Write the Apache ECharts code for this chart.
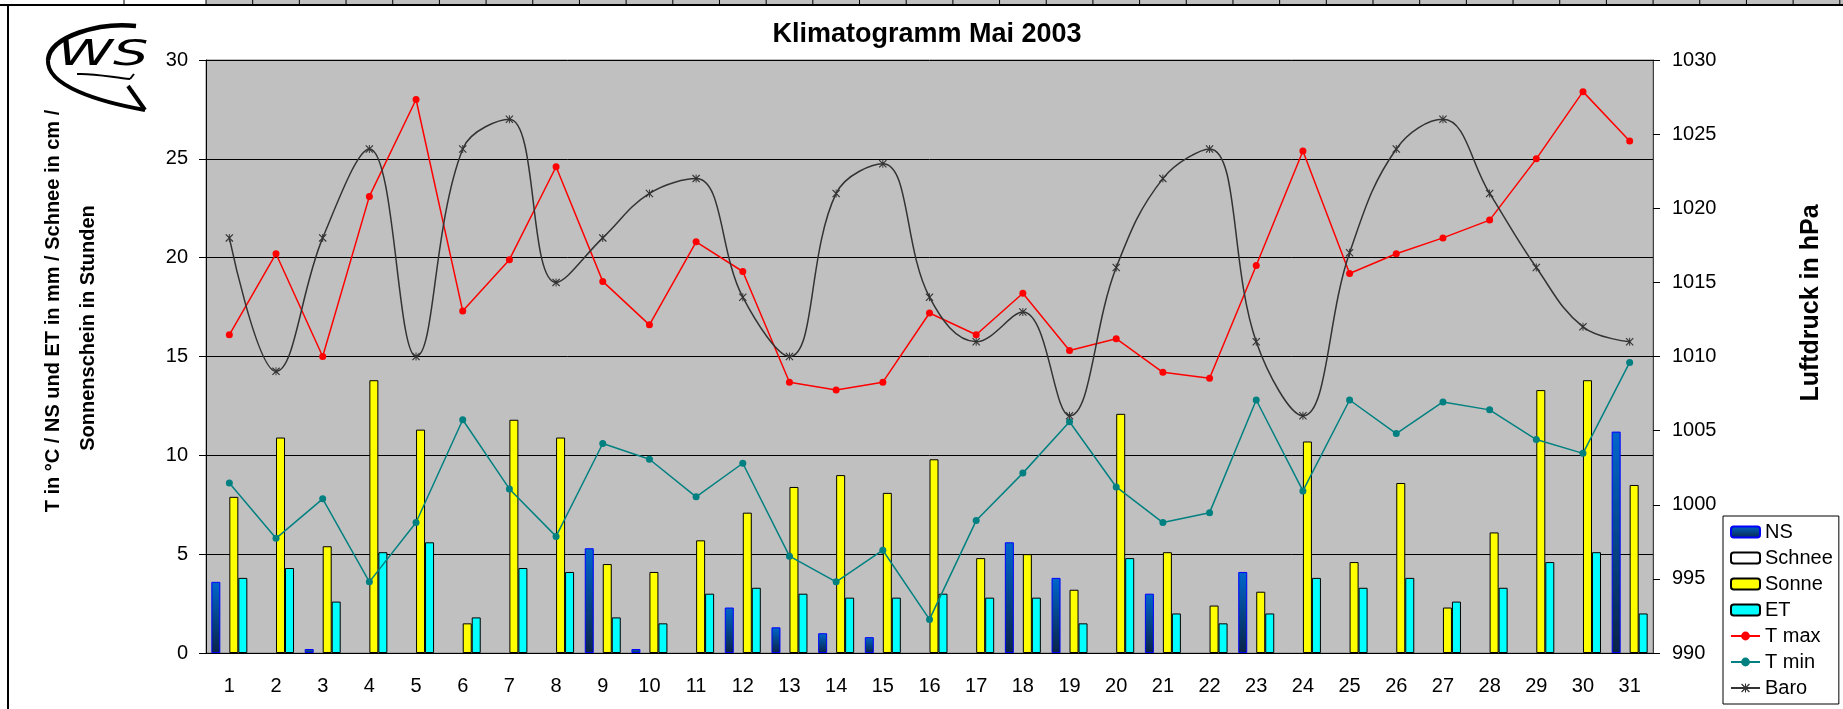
<!DOCTYPE html>
<html>
<head>
<meta charset="utf-8">
<title>Klimatogramm Mai 2003</title>
<script src="https://cdn.jsdelivr.net/npm/echarts@6/dist/echarts.min.js"></script>
<style>
    html, body { margin: 0; padding: 0; background: #fff; }
    #chart { width: 1843px; height: 709px; }
</style>
</head>
<body>
<div id="chart"></div>
<script>
// Tage im Mai
const days = ['1', '2', '3', '4', '5', '6', '7', '8', '9', '10', '11', '12', '13', '14', '15', '16',
    '17', '18', '19', '20', '21', '22', '23', '24', '25', '26', '27', '28', '29', '30', '31'];

// Niederschlag (mm), null = kein Balken
const ns = [3.6, null, 0.2, null, null, null, null, null, 5.3, 0.2, null, 2.3, 1.3, 1.0, 0.8, null,
    null, 5.6, 3.8, null, 3.0, null, 4.1, null, null, null, null, null, null, null, 11.2];
// Schnee (cm) - im Mai keiner
const schnee = [null, null, null, null, null, null, null, null, null, null, null, null, null, null, null, null,
    null, null, null, null, null, null, null, null, null, null, null, null, null, null, null];
// Sonnenschein (Stunden)
const sonne = [7.9, 10.9, 5.4, 13.8, 11.3, 1.5, 11.8, 10.9, 4.5, 4.1, 5.7, 7.1, 8.4, 9.0, 8.1, 9.8,
    4.8, 5.0, 3.2, 12.1, 5.1, 2.4, 3.1, 10.7, 4.6, 8.6, 2.3, 6.1, 13.3, 13.8, 8.5];
// Evapotranspiration (mm)
const et = [3.8, 4.3, 2.6, 5.1, 5.6, 1.8, 4.3, 4.1, 1.8, 1.5, 3.0, 3.3, 3.0, 2.8, 2.8, 3.0,
    2.8, 2.8, 1.5, 4.8, 2.0, 1.5, 2.0, 3.8, 3.3, 3.8, 2.6, 3.3, 4.6, 5.1, 2.0];
// Temperaturen (°C)
const tMax = [16.1, 20.2, 15.0, 23.1, 28.0, 17.3, 19.9, 24.6, 18.8, 16.6, 20.8, 19.3, 13.7, 13.3, 13.7, 17.2,
    16.1, 18.2, 15.3, 15.9, 14.2, 13.9, 19.6, 25.4, 19.2, 20.2, 21.0, 21.9, 25.0, 28.4, 25.9];
const tMin = [8.6, 5.8, 7.8, 3.6, 6.6, 11.8, 8.3, 5.9, 10.6, 9.8, 7.9, 9.6, 4.9, 3.6, 5.2, 1.7,
    6.7, 9.1, 11.7, 8.4, 6.6, 7.1, 12.8, 8.2, 12.8, 11.1, 12.7, 12.3, 10.8, 10.1, 14.7];
// Luftdruck (hPa)
const baro = [1018, 1009, 1018, 1024, 1010, 1024, 1026, 1015, 1018, 1021, 1022, 1014, 1010, 1021, 1023, 1014,
    1011, 1013, 1006, 1016, 1022, 1024, 1011, 1006, 1017, 1024, 1026, 1021, 1016, 1012, 1011];

// Achsenbereiche
const leftAxis = { min: 0, max: 30, step: 5 };
const rightAxis = { min: 990, max: 1030, step: 5 };

const FONT = "'Liberation Sans', Arial, sans-serif";
const starPath = 'path://M0,1 L1,0 L5,4 L9,0 L10,1 L6,5 L10,9 L9,10 L5,6 L1,10 L0,9 L4,5 Z M4.4,0 L5.6,0 L5.6,10 L4.4,10 Z';

const chart = echarts.init(document.getElementById('chart'));

// Zellen der Tabelle oberhalb des Diagramms
const cells = [];
for (let i = 0; i <= 35; i++) {
    cells.push({ type: 'line', shape: { x1: 206 + i * 46.68, y1: 0, x2: 206 + i * 46.68, y2: 5 }, style: { stroke: '#000', lineWidth: 1 } });
}

const option = {
    backgroundColor: '#fff',
    textStyle: { fontFamily: FONT },
    animation: false,
    grid: {
        left: 206, right: 190, top: 60, bottom: 56,
        containLabel: false,
        show: true,
        backgroundColor: '#c0c0c0',
        borderColor: '#808080',
        borderWidth: 1
    },
    legend: {
        orient: 'vertical',
        left: 1723,
        top: 516,
        itemWidth: 29,
        itemHeight: 11,
        itemGap: 6,
        padding: [6, 6, 6, 7],
        borderColor: '#000',
        borderWidth: 1,
        backgroundColor: '#fff',
        textStyle: { fontSize: 20, color: '#000', fontFamily: FONT },
        data: ['NS', 'Schnee', 'Sonne', 'ET', 'T max', 'T min', 'Baro']
    },
    xAxis: {
        type: 'category',
        data: days,
        axisLine: { lineStyle: { color: '#000', width: 1 } },
        axisTick: { length: 7, lineStyle: { color: '#000' } },
        axisLabel: { color: '#000', fontSize: 20, margin: 23, interval: 0, fontFamily: FONT }
    },
    yAxis: [
        {
            type: 'value',
            min: leftAxis.min, max: leftAxis.max, interval: leftAxis.step,
            axisLine: { show: true, lineStyle: { color: '#000' } },
            axisTick: { show: true, length: 7, lineStyle: { color: '#000' } },
            axisLabel: { color: '#000', fontSize: 20, margin: 18, fontFamily: FONT },
            splitLine: { lineStyle: { color: '#000', width: 1 } }
        },
        {
            type: 'value',
            min: rightAxis.min, max: rightAxis.max, interval: rightAxis.step,
            position: 'right',
            axisLine: { show: true, lineStyle: { color: '#404040' } },
            axisTick: { show: true, length: 7, lineStyle: { color: '#000' } },
            axisLabel: { color: '#000', fontSize: 20, margin: 19, fontFamily: FONT, formatter: v => String(v) },
            splitLine: { show: false }
        }
    ],
    graphic: [
        // Rahmen / Tabelle oben
        { type: 'rect', shape: { x: 206, y: 0, width: 1637, height: 5 }, style: { fill: '#c0c0c0' } },
        { type: 'line', shape: { x1: 124, y1: 0, x2: 124, y2: 5 }, style: { stroke: '#000', lineWidth: 1 } },
        ...cells,
        { type: 'line', shape: { x1: 0, y1: 5, x2: 1843, y2: 5 }, style: { stroke: '#000', lineWidth: 2 } },
        { type: 'line', shape: { x1: 8, y1: 5, x2: 8, y2: 709 }, style: { stroke: '#000', lineWidth: 2 } },
        // Logo
        { type: 'bezierCurve', shape: { x1: 136, y1: 26, cpx1: 100, cpy1: 22, cpx2: 50, cpy2: 36, x2: 48, y2: 60 }, style: { stroke: '#000', lineWidth: 4.5, fill: null } },
        { type: 'bezierCurve', shape: { x1: 48, y1: 60, cpx1: 46, cpy1: 86, cpx2: 100, cpy2: 102, x2: 145, y2: 110 }, style: { stroke: '#000', lineWidth: 4, fill: null } },
        { type: 'line', shape: { x1: 128, y1: 86, x2: 145, y2: 110 }, style: { stroke: '#000', lineWidth: 4 } },
        { type: 'bezierCurve', shape: { x1: 77, y1: 74, cpx1: 95, cpy1: 73, cpx2: 115, cpy2: 78, x2: 130, y2: 79 }, style: { stroke: '#000', lineWidth: 2, fill: null } },
        { type: 'line', shape: { x1: 130, y1: 79, x2: 134, y2: 74 }, style: { stroke: '#000', lineWidth: 2 } },
        { type: 'text', x: 103, y: 56, scaleX: 1.55, style: { text: 'WS', font: 'italic 36px "DejaVu Sans", sans-serif', fill: '#000', textAlign: 'center', textVerticalAlign: 'middle' } },
        // Titel
        { type: 'text', x: 927, y: 35, style: { text: 'Klimatogramm Mai 2003', font: 'bold 27px ' + FONT, fill: '#000', textAlign: 'center', textVerticalAlign: 'middle' } },
        // Achsentitel
        { type: 'text', x: 53, y: 311, rotation: Math.PI / 2, style: { text: 'T in °C / NS und ET in mm / Schnee in cm /', font: 'bold 20px ' + FONT, fill: '#000', textAlign: 'center', textVerticalAlign: 'middle' } },
        { type: 'text', x: 88, y: 328, rotation: Math.PI / 2, style: { text: 'Sonnenschein in Stunden', font: 'bold 20px ' + FONT, fill: '#000', textAlign: 'center', textVerticalAlign: 'middle' } },
        { type: 'text', x: 1811, y: 303, rotation: Math.PI / 2, style: { text: 'Luftdruck in hPa', font: 'bold 25px ' + FONT, fill: '#000', textAlign: 'center', textVerticalAlign: 'middle' } }
    ],
    series: [
        {
            name: 'NS', type: 'bar', data: ns, barWidth: 9, barGap: '0%',
            itemStyle: {
                color: new echarts.graphic.LinearGradient(0, 0, 0, 1, [
                    { offset: 0, color: '#0066cc' },
                    { offset: 1, color: '#0a2448' }
                ]),
                borderColor: '#0000ff', borderWidth: 1
            }
        },
        {
            name: 'Schnee', type: 'bar', data: schnee, barWidth: 9, barGap: '0%',
            itemStyle: { color: '#fff', borderColor: '#000', borderWidth: 1 }
        },
        {
            name: 'Sonne', type: 'bar', data: sonne, barWidth: 9, barGap: '0%',
            itemStyle: { color: '#ffff00', borderColor: '#000', borderWidth: 1 }
        },
        {
            name: 'ET', type: 'bar', data: et, barWidth: 9, barGap: '0%',
            itemStyle: { color: '#00ffff', borderColor: '#000', borderWidth: 1 }
        },
        {
            name: 'T max', type: 'line', data: tMax,
            symbol: 'circle', symbolSize: 7,
            lineStyle: { color: '#ff0000', width: 1.5 },
            itemStyle: { color: '#ff0000' }
        },
        {
            name: 'T min', type: 'line', data: tMin,
            symbol: 'circle', symbolSize: 7,
            lineStyle: { color: '#008080', width: 1.5 },
            itemStyle: { color: '#008080' }
        },
        {
            name: 'Baro', type: 'line', data: baro, yAxisIndex: 1,
            smooth: 0.4,
            symbol: starPath, symbolSize: 8,
            lineStyle: { color: '#333', width: 1.5 },
            itemStyle: { color: '#333' }
        }
    ]
};

chart.setOption(option);
</script>
</body>
</html>
